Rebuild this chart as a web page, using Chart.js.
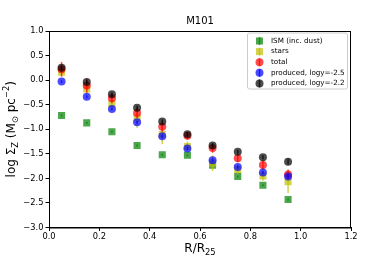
<!DOCTYPE html>
<html>
<head>
<meta charset="utf-8">
<script src="https://cdn.jsdelivr.net/npm/chart.js@4/dist/chart.umd.min.js"></script>
<style>
  html, body { margin: 0; padding: 0; background: #fff; }
  canvas { display: block; }
</style>
</head>
<body>
<canvas id="chart" width="390" height="260"></canvas>
<script>
const radii = [0.05, 0.15, 0.25, 0.35, 0.45, 0.55, 0.65, 0.75, 0.85, 0.95];

const ism = [-0.72, -0.87, -1.05, -1.33, -1.52, -1.53, -1.73, -1.96, -2.14, -2.43];
const ismErr = [0.02, 0.02, 0.02, 0.02, 0.02, 0.02, 0.02, 0.02, 0.02, 0.02];
const stars = [0.16, -0.18, -0.48, -0.77, -1.11, -1.35, -1.69, -1.82, -1.95, -2.07];
const starsErr = [0.08, 0.1, 0.12, 0.2, 0.19, 0.1, 0.16, 0.1, 0.1, 0.23];
const total = [0.22, -0.11, -0.37, -0.67, -0.95, -1.13, -1.38, -1.59, -1.73, -1.92];
const totalErr = [0.15, 0.14, 0.1, 0.1, 0.1, 0.08, 0.1, 0.08, 0.1, 0.1];
const prod25 = [-0.03, -0.34, -0.59, -0.86, -1.14, -1.39, -1.63, -1.77, -1.88, -1.96];
const prod25Err = [0.03, 0.03, 0.03, 0.03, 0.03, 0.03, 0.03, 0.03, 0.03, 0.03];
const prod22 = [0.25, -0.04, -0.29, -0.56, -0.84, -1.10, -1.33, -1.46, -1.57, -1.66];
const prod22Err = [0.04, 0.04, 0.04, 0.04, 0.04, 0.04, 0.04, 0.04, 0.04, 0.06];

const seriesNames = ["ISM (inc. dust)", "stars", "total", "produced, logy=-2.5", "produced, logy=-2.2"];
const xTicks = [0, 0.2, 0.4, 0.6, 0.8, 1.0, 1.2];
const xTickLabels = ["0.0", "0.2", "0.4", "0.6", "0.8", "1.0", "1.2"];
const yTicks = [-3, -2.5, -2, -1.5, -1, -0.5, 0, 0.5, 1];
const yTickLabels = ["\u22123.0", "\u22122.5", "\u22122.0", "\u22121.5", "\u22121.0", "\u22120.5", "0.0", "0.5", "1.0"];

const FONT = "'DejaVu Sans', sans-serif";

const makeSet = (label, values, errs, color, style, radius, idx) => ({
  label: label,
  data: radii.map((x, i) => ({ x: x, y: values[i] })),
  errs: errs,
  backgroundColor: color,
  borderColor: color,
  borderWidth: 0,
  pointStyle: style,
  pointRadius: radius,
  order: 4 - idx,
});

const datasets = [
  makeSet(seriesNames[0], ism, ismErr, "rgba(0,128,0,0.7)", "rect", 5, 0),
  makeSet(seriesNames[1], stars, starsErr, "rgba(191,191,0,0.7)", "rect", 5, 1),
  makeSet(seriesNames[2], total, totalErr, "rgba(255,0,0,0.7)", "circle", 4, 2),
  makeSet(seriesNames[3], prod25, prod25Err, "rgba(0,0,255,0.7)", "circle", 4, 3),
  makeSet(seriesNames[4], prod22, prod22Err, "rgba(0,0,0,0.7)", "circle", 4, 4),
];

// draws text pieces in a row, some pieces lowered/raised and smaller
const drawRich = (ctx, parts, size) => {
  let total = 0;
  parts.forEach(p => {
    ctx.font = (p.s ? size * 0.7 : size) + "px " + FONT;
    p.w = ctx.measureText(p.t).width;
    total += p.w;
  });
  let x = -total / 2;
  parts.forEach(p => {
    ctx.font = (p.s ? size * 0.7 : size) + "px " + FONT;
    ctx.fillText(p.t, x, p.s === "sub" ? size * 0.3 : p.s === "sup" ? -size * 0.4 : 0);
    x += p.w;
  });
};

const extras = {
  id: "extras",
  beforeDatasetDraw(chart, args) {
    const ds = chart.data.datasets[args.index];
    const ys = chart.scales.y;
    const ctx = chart.ctx;
    ctx.save();
    ctx.strokeStyle = ds.borderColor;
    ctx.lineWidth = 1.5;
    args.meta.data.forEach((pt, i) => {
      const v = ds.data[i].y;
      const e = ds.errs[i];
      ctx.beginPath();
      ctx.moveTo(pt.x, ys.getPixelForValue(v - e));
      ctx.lineTo(pt.x, ys.getPixelForValue(v + e));
      ctx.stroke();
    });
    ctx.restore();
  },
  afterDraw(chart) {
    const ctx = chart.ctx;
    const a = chart.chartArea;
    ctx.save();
    // frame
    ctx.strokeStyle = "#000";
    ctx.lineWidth = 1;
    ctx.strokeRect(a.left + 0.5, a.top + 0.5, a.right - a.left - 1, a.bottom - a.top);

    ctx.fillStyle = "#000";
    ctx.textBaseline = "middle";
    ctx.textAlign = "left";

    // title
    ctx.save();
    ctx.translate((a.left + a.right) / 2, 21);
    drawRich(ctx, [{ t: "M101" }], 10);
    ctx.restore();

    // x label
    ctx.save();
    ctx.translate((a.left + a.right) / 2, 249);
    drawRich(ctx, [{ t: "R/R" }, { t: "25", s: "sub" }], 12);
    ctx.restore();

    // y label
    ctx.save();
    ctx.translate(12, (a.top + a.bottom) / 2);
    ctx.rotate(-Math.PI / 2);
    drawRich(ctx, [
      { t: "log \u03a3" }, { t: "Z", s: "sub" }, { t: " (M" }, { t: "\u2299", s: "sub" },
      { t: " pc" }, { t: "\u22122", s: "sup" }, { t: ")" },
    ], 12);
    ctx.restore();

    // legend
    const lx = 247.5, ly = 33, lw = 100, lh = 56;
    ctx.fillStyle = "rgba(255,255,255,0.8)";
    ctx.strokeStyle = "#ccc";
    ctx.beginPath();
    ctx.roundRect(lx, ly, lw, lh, 2);
    ctx.fill();
    ctx.stroke();
    ctx.font = "7.2px " + FONT;
    chart.data.datasets.forEach((ds, i) => {
      const y = 41 + i * 10.6;
      const mx = 259.5;
      ctx.strokeStyle = ds.borderColor;
      ctx.lineWidth = 1.5;
      ctx.beginPath();
      ctx.moveTo(mx, y - 4);
      ctx.lineTo(mx, y + 4);
      ctx.stroke();
      ctx.fillStyle = ds.backgroundColor;
      if (ds.pointStyle === "rect") {
        ctx.fillRect(mx - 3.5, y - 3.5, 7, 7);
      } else {
        ctx.beginPath();
        ctx.arc(mx, y, 4, 0, Math.PI * 2);
        ctx.fill();
      }
      ctx.fillStyle = "#000";
      ctx.fillText(ds.label, 271, y);
    });
    ctx.restore();
  },
};

const axisCommon = {
  type: "linear",
  border: { display: true, color: "#000", width: 1 },
  grid: { display: true, drawOnChartArea: false, drawTicks: true, tickLength: 3.5, color: "#000" },
};

new Chart(document.getElementById("chart"), {
  type: "scatter",
  data: { datasets: datasets },
  options: {
    responsive: false,
    animation: false,
    events: [],
    layout: { padding: { top: 31, right: 39, left: 0, bottom: 0 } },
    plugins: {
      legend: { display: false },
      tooltip: { enabled: false },
    },
    scales: {
      x: {
        ...axisCommon,
        min: 0,
        max: 1.2,
        afterBuildTicks: s => { s.ticks = xTicks.map(v => ({ value: v })); },
        afterFit: s => { s.height = 32.5; },
        ticks: {
          color: "#000",
          padding: 1,
          maxRotation: 0,
          font: { family: FONT, size: 8.3 },
          callback: (v, i) => xTickLabels[i],
        },
      },
      y: {
        ...axisCommon,
        min: -3,
        max: 1,
        afterBuildTicks: s => { s.ticks = yTicks.map(v => ({ value: v })); },
        afterFit: s => { s.width = 49; },
        ticks: {
          color: "#000",
          padding: 2,
          font: { family: FONT, size: 8.3 },
          callback: (v, i) => yTickLabels[i],
        },
      },
    },
  },
  plugins: [extras],
});
</script>
</body>
</html>
